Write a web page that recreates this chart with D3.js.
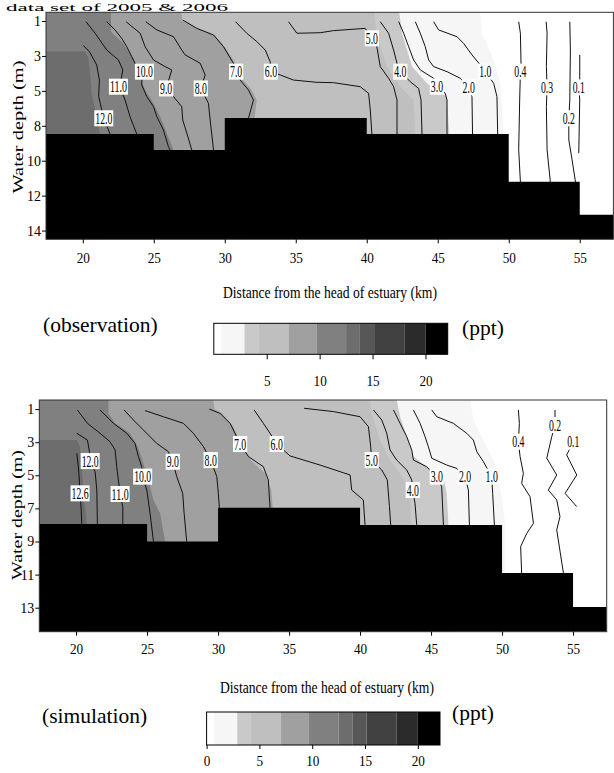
<!DOCTYPE html>
<html>
<head>
<meta charset="utf-8">
<script src="https://cdn.jsdelivr.net/npm/d3@7"></script>
<style>
  body { margin: 0; background: #fff; }
  svg { display: block; font-family: "Liberation Serif", "Times New Roman", serif; }
</style>
</head>
<body>
<svg id="chart" width="614" height="773"></svg>
<script>
// ---- data ----
const kmDomain = [17.41, 57.37];
const xTicks = [20, 25, 30, 35, 40, 45, 50, 55];
const depthTicks = [1, 3, 5, 7, 9, 11, 13];
const obsDepthLabels = ["1", "3", "5", "8", "10", "12", "14"];
const simDepthLabels = ["1", "3", "5", "7", "9", "11", "13"];

// legend bands (ppt) and their greys
const legendBreaks = [0, 0.7, 2.9, 4.2, 7.05, 9.7, 12.5, 13.8, 15.15, 18, 20, 22.1];
const legendGrays = ["#ffffff", "#f6f6f6", "#c9c9c9", "#bfbfbf", "#a0a0a0", "#808080",
                     "#6d6d6d", "#575757", "#414141", "#2b2b2b", "#000000"];
const obsLegendTicks = [5, 10, 15, 20];
const simLegendTicks = [0, 5, 10, 15, 20];

// river bed steps (km) and bed level in each step
const stepKm = [17.41, 25, 30, 40, 50, 55];
const obsBed = [7.47, 8.39, 6.55, 7.47, 10.2, 12.1];
const simBed = [7.94, 9.0, 6.96, 8.0, 10.9, 12.95];

// shaded areas: salinity >= threshold lies left of the boundary [km, depth]
const obsShades = [
  [0.7, [[48.0, 0.5], [48.11, 1.7], [48.94, 3.23], [49.41, 4.57], [49.64, 7.43], [49.64, 13.5]]],
  [2.9, [[42.29, 0.5], [42.48, 1.7], [43.19, 3.61], [44.24, 4.57], [45.65, 5.33], [45.8, 7.43], [45.8, 13.5]]],
  [4.2, [[40.53, 0.5], [40.67, 1.7], [41.42, 3.61], [42.36, 4.76], [43.3, 5.52], [43.4, 7.43], [43.4, 13.5]]],
  [7.05, [[26.93, 0.5], [27.0, 0.94], [28.1, 1.42], [29.3, 1.8], [30.0, 2.47], [30.75, 3.42], [31.0, 3.9],
          [31.3, 4.38], [31.9, 4.95], [32.25, 5.52], [32.1, 6.57], [32.1, 13.5]]],
  [9.7, [[21.99, 0.5], [21.99, 1.61], [22.86, 2.28], [23.57, 3.14], [24.04, 4.19], [24.39, 4.95],
         [24.98, 5.71], [25.45, 6.48], [25.92, 7.43], [26.39, 8.38], [26.39, 13.5]]],
  [12.5, [[20.16, 2.75], [20.4, 3.14], [20.51, 3.99], [20.63, 5.14], [20.87, 6.1], [21.22, 7.43], [21.22, 13.5]]]
];
const simShades = [
  [0.7, [[47.75, 0.45], [47.98, 1.66], [48.92, 3.27], [49.62, 4.48], [49.98, 6.29], [50.21, 7.9], [50.21, 14.45]]],
  [2.9, [[42.58, 0.45], [42.82, 1.46], [43.29, 2.67], [43.76, 3.87], [44.69, 4.48], [45.87, 5.08],
         [46.1, 6.09], [46.22, 7.9], [46.22, 14.45]]],
  [4.2, [[40.7, 0.45], [40.82, 1.26], [41.41, 2.87], [42.11, 4.08], [42.82, 4.88], [43.5, 5.89], [43.6, 7.9], [43.6, 14.45]]],
  [7.05, [[29.67, 0.45], [29.75, 1.0], [30.3, 1.26], [31.08, 2.06], [31.6, 3.07], [32.3, 4.08],
          [33.3, 4.88], [33.75, 5.89], [33.85, 6.96], [33.85, 14.45]]],
  [9.7, [[22.28, 0.45], [22.28, 1.26], [22.75, 1.86], [23.8, 2.46], [24.35, 3.27], [24.74, 4.28],
         [25.09, 5.28], [25.45, 6.49], [25.92, 7.3], [26.27, 9.01], [26.27, 14.45]]],
  [12.5, [[20.05, 2.87], [20.28, 3.27], [20.4, 4.48], [20.52, 5.89], [20.75, 7.94], [20.75, 14.45]]]
];

// isohalines: [label, points [km, depth], label position]
const obsContours = [
  ["12.0", [[20.04, 2.41], [20.47, 2.75], [20.98, 3.52], [21.17, 4.38], [21.12, 5.33], [21.34, 6.1], [21.48, 6.57], [21.92, 7.47]], [21.48, 6.57]],
  ["11.0", [[20.23, 1.04], [20.87, 1.7], [21.69, 2.66], [22.51, 3.23], [22.82, 3.8], [22.6, 4.76], [22.98, 5.52], [23.33, 6.48], [23.8, 7.47]], [22.51, 4.76]],
  ["10.0", [[21.69, 1.04], [22.27, 1.51], [22.74, 1.99], [23.1, 2.47], [23.45, 3.04], [23.8, 3.61], [24.2, 3.9], [24.15, 4.66],
            [24.51, 5.33], [24.98, 5.9], [25.22, 6.48], [25.68, 7.24], [26.03, 8.19], [26.15, 8.39]], [24.34, 3.9]],
  ["9.0", [[23.05, 1.04], [24.04, 1.7], [24.39, 2.47], [24.98, 3.23], [25.8, 3.61], [26.27, 3.8], [25.87, 4.86], [26.39, 5.33],
           [26.97, 5.9], [27.04, 6.67], [27.33, 7.43], [27.68, 8.39]], [25.87, 4.86]],
  ["8.0", [[24.44, 1.04], [25.22, 1.51], [26.39, 1.9], [26.97, 2.66], [27.21, 2.94], [28.27, 3.42], [28.62, 4.09], [28.31, 4.86],
           [28.85, 5.71], [28.97, 6.67], [29.21, 8.39]], [28.31, 4.86]],
  ["7.0", [[27.04, 0.94], [28.03, 1.42], [29.21, 1.8], [29.91, 2.47], [30.61, 3.42], [30.8, 3.9], [31.08, 4.38], [31.67, 4.95],
           [32.02, 5.52], [31.67, 6.57]], [30.8, 3.9]],
  ["6.0", [[30.76, 1.04], [31.55, 1.7], [32.26, 2.18], [32.85, 2.66], [33.2, 3.33], [33.25, 3.9], [33.91, 4.09], [34.84, 4.38],
           [36.49, 4.51], [37.66, 4.53], [39.54, 4.76], [40.13, 5.14], [40.25, 6.1], [40.36, 7.47]], [33.25, 3.9]],
  ["5.0", [[34.49, 1.04], [35.08, 1.7], [36.72, 1.67], [37.66, 1.55], [39.89, 1.42], [40.36, 1.99], [40.71, 2.47], [40.95, 3.61],
           [41.54, 4.28], [41.89, 4.76], [42.13, 5.52], [42.13, 7.47]], [40.36, 1.99]],
  ["4.0", [[40.95, 1.04], [41.54, 1.7], [41.89, 2.66], [42.13, 3.42], [42.36, 3.9], [43.07, 4.48], [43.65, 4.86], [43.82, 5.52],
           [43.89, 7.47]], [42.36, 3.9]],
  ["3.0", [[42.25, 1.04], [42.6, 1.7], [42.95, 2.47], [43.3, 3.23], [43.77, 3.8], [44.71, 4.28], [44.94, 4.76], [45.53, 5.14],
           [45.65, 5.52], [45.65, 7.47]], [44.94, 4.76]],
  ["2.0", [[43.42, 1.04], [43.77, 1.7], [44.12, 2.47], [44.36, 3.23], [44.71, 3.61], [45.65, 3.9], [46.59, 4.28], [47.18, 4.8],
           [47.41, 5.33], [47.45, 7.47]], [47.18, 4.8]],
  ["1.0", [[44.71, 1.04], [45.06, 1.51], [46.36, 1.9], [46.82, 2.28], [47.41, 2.94], [48.0, 3.52], [48.35, 3.9], [48.94, 4.57],
           [49.17, 5.33], [49.22, 7.47]], [48.35, 3.9]],
  ["0.4", [[50.7, 1.04], [50.82, 1.7], [50.87, 3.61], [50.82, 3.9], [50.77, 5.52], [50.7, 8.38], [50.82, 10.22]], [50.82, 3.9]],
  ["0.3", [[52.63, 1.04], [52.7, 1.7], [52.65, 3.61], [52.7, 4.8], [52.65, 5.9], [52.7, 8.38], [52.93, 10.22]], [52.7, 4.8]],
  ["0.2", [[54.3, 1.04], [54.34, 2.66], [54.3, 5.52], [54.23, 6.57], [54.23, 7.81], [54.46, 8.95], [54.7, 10.22]], [54.23, 6.57]],
  ["0.1", [[55.0, 2.94], [55.0, 4.38], [54.93, 4.8], [55.0, 5.52], [54.93, 8.57]], [54.93, 4.8]]
];
const simContours = [
  ["12.6", [[20.05, 3.67], [20.16, 4.48], [20.23, 5.28], [20.28, 6.09], [20.35, 6.89], [20.4, 7.94]], [20.28, 6.09]],
  ["12.0", [[20.05, 2.46], [20.8, 2.87], [20.94, 3.57], [20.99, 4.14], [21.34, 4.78], [21.46, 5.89], [21.5, 7.94]], [20.99, 4.14]],
  ["11.0", [[20.09, 1.05], [20.8, 1.86], [21.69, 2.46], [22.39, 2.97], [22.75, 3.47], [22.86, 4.48], [22.98, 5.28], [23.1, 6.13],
            [23.29, 6.89], [23.29, 7.94]], [23.1, 6.13]],
  ["10.0", [[21.69, 1.05], [22.63, 1.86], [23.57, 2.46], [24.15, 3.07], [24.39, 3.87], [24.62, 4.48], [24.69, 5.08], [24.98, 5.89],
            [25.21, 7.3], [25.45, 9.0]], [24.69, 5.08]],
  ["9.0", [[23.38, 1.05], [24.04, 1.66], [24.74, 2.26], [25.68, 3.07], [26.5, 3.57], [26.81, 4.18], [27.09, 5.08], [27.51, 6.09],
           [27.61, 7.3], [27.79, 9.0]], [26.81, 4.18]],
  ["8.0", [[24.86, 1.09], [26.15, 1.46], [27.56, 1.86], [28.26, 2.46], [28.97, 3.27], [29.48, 4.08], [29.91, 5.08], [30.02, 6.09],
           [30.09, 6.96]], [29.48, 4.08]],
  ["7.0", [[29.39, 1.0], [30.14, 1.26], [30.85, 1.86], [31.31, 2.67], [31.55, 3.11], [32.14, 3.87], [33.19, 4.48], [33.54, 5.28],
           [33.66, 6.96]], [31.55, 3.11]],
  ["6.0", [[32.54, 1.05], [33.19, 1.86], [33.66, 2.46], [34.13, 3.11], [35.07, 3.83], [37.18, 4.38], [39.3, 4.98], [39.41, 5.89],
           [40.23, 6.49], [40.35, 8.0]], [34.13, 3.11]],
  ["5.0", [[36.06, 0.95], [38.12, 1.15], [40.0, 1.46], [40.59, 2.06], [40.75, 3.27], [40.82, 4.08], [41.53, 4.68], [41.92, 5.28],
           [42.07, 6.89], [42.16, 8.0]], [40.82, 4.08]],
  ["4.0", [[40.94, 1.05], [41.53, 1.66], [41.88, 2.46], [42.11, 3.47], [42.58, 4.08], [43.29, 4.68], [43.64, 5.28], [43.71, 5.89],
           [43.87, 6.69], [43.99, 8.0]], [43.71, 5.89]],
  ["3.0", [[42.35, 1.05], [42.82, 1.86], [43.29, 2.67], [43.64, 3.47], [43.76, 4.08], [44.69, 4.48], [45.4, 5.08], [45.75, 5.69],
           [45.87, 8.0]], [45.4, 5.08]],
  ["2.0", [[43.76, 1.05], [44.23, 1.86], [44.58, 2.67], [44.81, 3.27], [45.05, 3.97], [46.1, 4.38], [46.81, 4.58], [47.39, 5.08],
           [47.63, 5.89], [47.7, 8.0]], [47.39, 5.08]],
  ["1.0", [[45.05, 1.05], [45.4, 1.46], [46.57, 1.86], [47.51, 2.46], [47.98, 2.87], [48.22, 3.57], [48.69, 4.18], [49.27, 5.08],
           [49.34, 6.09], [49.46, 8.0]], [49.27, 5.08]],
  ["0.4", [[51.15, 1.05], [51.22, 1.86], [51.15, 2.97], [51.27, 3.87], [51.5, 4.88], [51.38, 5.49], [51.97, 6.29], [52.21, 7.9],
           [51.74, 8.51], [51.31, 9.31], [51.38, 10.9]], [51.15, 2.97]],
  ["0.2", [[53.73, 1.05], [53.73, 1.96], [53.5, 2.67], [53.15, 3.97], [53.85, 4.98], [53.26, 5.89], [53.85, 6.49], [54.08, 7.5],
           [53.85, 8.3], [54.32, 10.9]], [53.73, 1.96]],
  ["0.1", [[55.02, 2.97], [54.55, 3.77], [55.26, 4.98], [54.44, 6.09], [55.26, 6.89]], [55.02, 2.97]]
];

const svg = d3.select("#chart");
const serif = "'Liberation Serif', 'Times New Roman', serif";

// header line at the very top
svg.append("text")
    .attr("x", 6)
    .attr("y", 10.5)
    .attr("font-size", 11)
    .attr("textLength", 222)
    .attr("lengthAdjust", "spacingAndGlyphs")
    .text("data set of 2005 & 2006");

function drawPanel(p) {
    const x = d3.scaleLinear(kmDomain, [p.left, p.right]);
    const y = d3.scaleLinear(p.yDomain, [p.top, p.bottom]);
    const g = svg.append("g");

    g.append("clipPath").attr("id", "clip-" + p.name)
        .append("rect")
        .attr("x", p.left).attr("y", p.top)
        .attr("width", p.right - p.left).attr("height", p.bottom - p.top);

    const plot = g.append("g").attr("clip-path", `url(#clip-${p.name})`);

    plot.append("rect")
        .attr("x", p.left).attr("y", p.top)
        .attr("width", p.right - p.left).attr("height", p.bottom - p.top)
        .attr("fill", "#fff");

    // salinity shading
    const shade = d3.area()
        .x0(p.left)
        .x1(d => x(d[0]))
        .y(d => y(d[1]));
    plot.selectAll("path.shade")
        .data(p.shades)
        .join("path")
        .attr("class", "shade")
        .attr("fill", d => legendGrays[legendBreaks.indexOf(d[0])])
        .attr("d", d => shade(d[1]));

    // river bed
    const bed = stepKm.map((k, i) => [k, p.bed[i]]);
    bed.push([kmDomain[1], p.bed[p.bed.length - 1]]);
    plot.append("path")
        .attr("fill", "#000")
        .attr("d", d3.area()
            .curve(d3.curveStepAfter)
            .x(d => x(d[0]))
            .y0(p.bottom)
            .y1(d => y(d[1]))(bed));

    // isohalines
    const line = d3.line().x(d => x(d[0])).y(d => y(d[1]));
    plot.append("g")
        .attr("fill", "none")
        .attr("stroke", "#111")
        .attr("stroke-width", 1)
        .selectAll("path")
        .data(p.contours)
        .join("path")
        .attr("d", d => line(d[1]));

    const labelW = s => s.replace(".", "").length * 4.8 + 2.6;
    const lab = plot.append("g")
        .selectAll("g")
        .data(p.contours)
        .join("g")
        .attr("transform", d => `translate(${x(d[2][0])},${y(d[2][1])})`);
    lab.append("rect")
        .attr("x", d => -labelW(d[0]) / 2 - 1)
        .attr("y", -8)
        .attr("width", d => labelW(d[0]) + 2)
        .attr("height", 16)
        .attr("fill", "#fff");
    lab.append("text")
        .attr("text-anchor", "middle")
        .attr("dy", "0.36em")
        .attr("font-size", 16)
        .attr("textLength", d => labelW(d[0]))
        .attr("lengthAdjust", "spacingAndGlyphs")
        .text(d => d[0]);

    // frame
    g.append("rect")
        .attr("x", p.left).attr("y", p.top)
        .attr("width", p.right - p.left).attr("height", p.bottom - p.top)
        .attr("fill", "none")
        .attr("stroke", "#333");

    // axes
    g.append("g")
        .attr("transform", `translate(0,${p.bottom})`)
        .call(d3.axisBottom(x).tickValues(xTicks).tickSize(4).tickPadding(p.xPad).tickFormat(d3.format("d")))
        .attr("font-family", serif)
        .attr("font-size", 15)
        .call(a => a.select(".domain").remove())
        .call(a => a.selectAll("text").attr("transform", "scale(0.88,1)"));

    g.append("g")
        .attr("transform", `translate(${p.left},0)`)
        .call(d3.axisLeft(y).tickValues(depthTicks).tickSize(4).tickPadding(1)
            .tickFormat((d, i) => p.depthLabels[i]))
        .attr("font-family", serif)
        .attr("font-size", 14)
        .call(a => a.select(".domain").remove());

    g.append("text")
        .attr("x", p.xTitleX)
        .attr("y", p.xTitleY)
        .attr("text-anchor", "middle")
        .attr("font-size", 16)
        .attr("textLength", 214)
        .attr("lengthAdjust", "spacingAndGlyphs")
        .text("Distance from the head of estuary (km)");

    g.append("text")
        .attr("transform", `translate(${p.yTitleX},${p.yTitleY}) rotate(-90)`)
        .attr("text-anchor", "middle")
        .attr("font-size", 15)
        .attr("textLength", p.yTitleLen)
        .attr("lengthAdjust", "spacingAndGlyphs")
        .text("Water depth (m)");

    // legend
    const lx = d3.scaleLinear([0, legendBreaks[legendBreaks.length - 1]], [p.lgX0, p.lgX1]);
    g.append("g")
        .selectAll("rect")
        .data(legendGrays)
        .join("rect")
        .attr("x", (c, i) => lx(legendBreaks[i]))
        .attr("width", (c, i) => lx(legendBreaks[i + 1]) - lx(legendBreaks[i]))
        .attr("y", p.lgY0)
        .attr("height", p.lgY1 - p.lgY0)
        .attr("fill", c => c);
    g.append("rect")
        .attr("x", p.lgX0).attr("y", p.lgY0)
        .attr("width", p.lgX1 - p.lgX0).attr("height", p.lgY1 - p.lgY0)
        .attr("fill", "none")
        .attr("stroke", "#000");
    g.append("g")
        .attr("transform", `translate(0,${p.lgY1})`)
        .call(d3.axisBottom(lx).tickValues(p.lgTicks).tickSize(p.lgTick).tickPadding(p.lgPad))
        .attr("font-family", serif)
        .attr("font-size", 15)
        .call(a => a.select(".domain").remove())
        .call(a => a.selectAll("text").attr("transform", "scale(0.88,1)"));

    g.append("text")
        .attr("x", p.capX).attr("y", p.capY)
        .attr("font-size", 21.5)
        .text(p.caption);
    g.append("text")
        .attr("x", p.pptX).attr("y", p.pptY)
        .attr("font-size", 21.5)
        .text("(ppt)");
}

drawPanel({
    name: "obs", left: 46, right: 613.4, top: 12.3, bottom: 239.3, yDomain: [0.5, 13.5],
    depthLabels: obsDepthLabels, bed: obsBed, shades: obsShades, contours: obsContours,
    xPad: 9.5, xTitleX: 330, xTitleY: 298, yTitleX: 23, yTitleY: 127, yTitleLen: 133,
    lgX0: 213.8, lgX1: 447.7, lgY0: 323.3, lgY1: 354.3, lgTicks: obsLegendTicks, lgTick: 5, lgPad: 16,
    caption: "(observation)", capX: 43, capY: 332, pptX: 462, pptY: 335
});

drawPanel({
    name: "sim", left: 39.3, right: 606.7, top: 400, bottom: 631.7, yDomain: [0.45, 14.45],
    depthLabels: simDepthLabels, bed: simBed, shades: simShades, contours: simContours,
    xPad: 7.7, xTitleX: 327, xTitleY: 693, yTitleX: 22, yTitleY: 515, yTitleLen: 130,
    lgX0: 206.6, lgX1: 440, lgY0: 712, lgY1: 745, lgTicks: simLegendTicks, lgTick: 4, lgPad: 6.5,
    caption: "(simulation)", capX: 42, capY: 723, pptX: 452, pptY: 720
});
</script>
</body>
</html>
